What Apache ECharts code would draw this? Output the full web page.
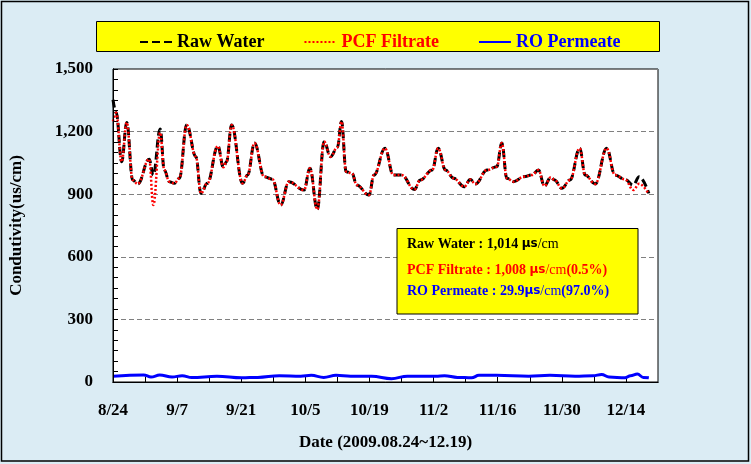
<!DOCTYPE html>
<html>
<head>
<meta charset="utf-8">
<script src="https://cdn.jsdelivr.net/npm/echarts@6/dist/echarts.min.js"></script>
<style>
html, body { margin: 0; padding: 0; background: #fff; }
#chart { width: 751px; height: 464px; }
</style>
</head>
<body>
<div id="chart"></div>
<script>
// days counted from 2009-08-24
const dateLabels = ['8/24', '9/7', '9/21', '10/5', '10/19', '11/2', '11/16', '11/30', '12/14']

const rawDays = [0, 0.7, 1.9, 3.0, 4.3, 5.4, 7.9, 8.8, 10.3, 11.2, 12.3, 13.4, 14.5, 16.1, 18.1, 19.2, 20.6,
  22.9, 24.1, 24.8, 25.9, 28.3, 29.4, 30.9, 33.0, 34.8, 36.6, 38.4, 41.7, 43.0, 44.6, 46.1, 47.5, 49.0,
  49.9, 50.9, 52.2, 53.2, 55.9, 57.0, 59.4, 61.2, 63.0, 65.8, 67.1, 69.7, 71.0, 72.6, 74.4, 76.7, 78.0,
  79.1, 81.7, 83.8, 84.9, 86.0, 87.5, 89.7, 91.5, 92.9, 94.2, 95.6, 96.4, 98.0, 99.8, 101.9, 103.1,
  105.3, 107.8, 109.6, 111.8, 113.6, 114.9, 117]
const rawValues = [1353, 1290, 1056, 1244, 968, 949, 1068, 992, 1212, 1016, 960, 952, 976, 1232, 1080, 904, 952,
  1131, 1029, 1056, 1232, 952, 992, 1145, 984, 972, 848, 960, 920, 1024, 827, 1152, 1080, 1125,
  1248, 1008, 1000, 944, 896, 992, 1120, 992, 992, 923, 968, 1016, 1120, 1016, 976, 936, 971,
  949, 1016, 1032, 1145, 976, 960, 984, 992, 1016, 939, 981, 968, 928, 968, 1120, 992,
  949, 1120, 992, 971, 944, 984, 904]
const pcfValues = [1249, 1290, 1056, 1244, 968, 949, 1068, 848, 1195, 1016, 960, 952, 976, 1232, 1080, 904, 952,
  1131, 1029, 1056, 1232, 952, 992, 1145, 984, 972, 848, 960, 920, 1024, 827, 1152, 1080, 1125,
  1248, 1008, 1000, 944, 896, 992, 1120, 992, 992, 923, 968, 1016, 1120, 1016, 976, 936, 971,
  949, 1016, 1032, 1145, 976, 960, 984, 992, 1016, 939, 981, 968, 928, 968, 1120, 992,
  949, 1120, 992, 971, 920, 950, 900]

const roDays = [0, 6.7, 8.3, 10.2, 12.9, 15.1, 17.2, 22.7, 28.1, 31.6, 36.3, 41.0, 43.3, 46.0, 48.7, 51.9,
  56.5, 60.8, 64.3, 70.5, 72.4, 75.2, 78.3, 79.9, 83.7, 90.8, 95.4, 100.9, 104.8, 106.7, 108.3,
  111.8, 113.0, 114.5, 115.8, 117]
const roValues = [28, 34, 24, 33, 24, 30, 21, 28, 20, 22, 30, 28, 32, 22, 32, 28,
  27, 16, 28, 27, 30, 22, 20, 32, 32, 28, 32, 28, 30, 36, 24,
  20, 30, 38, 22, 20]

const serif = '"Liberation Serif", "Times New Roman", serif'

const chart = echarts.init(document.getElementById('chart'))

const pairs = (days, vals) => days.map((d, i) => [d, vals[i]])

chart.setOption({
  animation: false,
  backgroundColor: '#DBECF4',
  textStyle: { fontFamily: serif },
  grid: {
    left: 112, right: 93, top: 69, bottom: 82,
    show: true, backgroundColor: '#fff', borderColor: '#000', borderWidth: 1
  },
  legend: {
    left: 134, top: 28,
    itemWidth: 32, itemHeight: 12, itemGap: 39,
    itemStyle: { opacity: 0 },
    textStyle: { fontFamily: serif, fontWeight: 'bold', fontSize: 18 },
    data: [
      { name: 'Raw Water', textStyle: { color: '#000' } },
      { name: 'PCF Filtrate', textStyle: { color: '#FF0000' } },
      { name: 'RO Permeate', textStyle: { color: '#0000FF' } }
    ]
  },
  xAxis: [{
    type: 'value', min: 0, max: 119, interval: 7,
    name: 'Date (2009.08.24~12.19)', nameLocation: 'middle', nameGap: 52,
    nameTextStyle: { fontFamily: serif, fontWeight: 'bold', fontSize: 17, color: '#000' },
    axisLine: { show: true, lineStyle: { color: '#000', width: 1 } },
    axisTick: { show: true, inside: true, length: 5, lineStyle: { color: '#000' } },
    axisLabel: {
      margin: 20, fontFamily: serif, fontWeight: 'bold', fontSize: 17, color: '#000',
      showMinLabel: true, showMaxLabel: false,
      formatter: v => (v % 14 === 0 ? (dateLabels[v / 14] || '') : '')
    },
    splitLine: { show: false }
  }, {
    type: 'value', min: 0, max: 119, position: 'top', z: 5,
    axisLine: { show: true, lineStyle: { color: '#000', width: 1 } },
    axisTick: { show: false }, axisLabel: { show: false }, splitLine: { show: false }
  }],
  yAxis: [{
    type: 'value', min: 0, max: 1500, interval: 300,
    name: 'Condutivity(us/cm)', nameLocation: 'middle', nameGap: 88, nameRotate: 90,
    nameTextStyle: { fontFamily: serif, fontWeight: 'bold', fontSize: 17, color: '#000' },
    axisLine: { show: true, lineStyle: { color: '#000', width: 1 } },
    axisTick: { show: true, inside: true, length: 5, lineStyle: { color: '#000' } },
    minorTick: { show: true, splitNumber: 6, length: 5, lineStyle: { color: '#000' } },
    axisLabel: {
      margin: 20, fontFamily: serif, fontWeight: 'bold', fontSize: 17, color: '#000',
      formatter: v => v.toLocaleString('en-US')
    },
    splitLine: { show: true, lineStyle: { color: '#808080', type: [5, 3], width: 1 } }
  }, {
    type: 'value', min: 0, max: 1500, position: 'right', z: 5,
    axisLine: { show: true, lineStyle: { color: '#000', width: 1 } },
    axisTick: { show: false }, axisLabel: { show: false }, splitLine: { show: false }
  }],
  series: [{
    name: 'Raw Water', type: 'line', smooth: 0.4, smoothMonotone: 'x', symbol: 'none',
    lineStyle: { color: '#000', width: 3, type: [8, 4] },
    itemStyle: { color: '#000' },
    data: pairs(rawDays, rawValues)
  }, {
    name: 'PCF Filtrate', type: 'line', smooth: 0.4, smoothMonotone: 'x', symbol: 'none',
    lineStyle: { color: '#FF0000', width: 2.5, type: [2, 2] },
    itemStyle: { color: '#FF0000' },
    data: pairs(rawDays, pcfValues)
  }, {
    name: 'RO Permeate', type: 'line', smooth: 0.4, smoothMonotone: 'x', symbol: 'none',
    lineStyle: { color: '#0000FF', width: 3 },
    itemStyle: { color: '#0000FF' },
    data: pairs(roDays, roValues)
  }],
  graphic: [
    {
      type: 'rect', z: 0, silent: true,
      shape: { x: 1.5, y: 1.5, width: 747, height: 459.5 },
      style: { fill: 'none', stroke: '#000', lineWidth: 1.5 }
    },
    {
      type: 'rect', z: -1, silent: true,
      shape: { x: 96.5, y: 21.5, width: 563, height: 30 },
      style: { fill: '#FFFF00', stroke: '#000', lineWidth: 1 }
    },
    {
      type: 'rect', z: 10, silent: true,
      shape: { x: 397, y: 228.5, width: 241, height: 85.5 },
      style: { fill: '#FFFF00', stroke: '#000', lineWidth: 1 }
    },
    {
      type: 'text', z: 11, silent: true, left: 407, top: 237,
      style: {
        text: '{b|Raw Water : 1,014 }{u|μs}{n|/cm}',
        rich: {
          b: { fontFamily: serif, fontWeight: 'bold', fontSize: 14, fill: '#000' },
          u: { fontFamily: 'DejaVu Sans', fontWeight: 'bold', fontSize: 12, fill: '#000' },
          n: { fontFamily: serif, fontSize: 14, fill: '#000' }
        }
      }
    },
    {
      type: 'text', z: 11, silent: true, left: 407, top: 263,
      style: {
        text: '{b|PCF Filtrate : 1,008 }{u|μs}{n|/cm}{b|(0.5%)}',
        rich: {
          b: { fontFamily: serif, fontWeight: 'bold', fontSize: 14, fill: '#FF0000' },
          u: { fontFamily: 'DejaVu Sans', fontWeight: 'bold', fontSize: 12, fill: '#FF0000' },
          n: { fontFamily: serif, fontSize: 14, fill: '#FF0000' }
        }
      }
    },
    {
      type: 'text', z: 11, silent: true, left: 407, top: 284,
      style: {
        text: '{b|RO Permeate : 29.9}{u|μs}{n|/cm}{b|(97.0%)}',
        rich: {
          b: { fontFamily: serif, fontWeight: 'bold', fontSize: 14, fill: '#0000FF' },
          u: { fontFamily: 'DejaVu Sans', fontWeight: 'bold', fontSize: 12, fill: '#0000FF' },
          n: { fontFamily: serif, fontSize: 14, fill: '#0000FF' }
        }
      }
    }
  ]
})

window.addEventListener('resize', () => chart.resize())
</script>
</body>
</html>
